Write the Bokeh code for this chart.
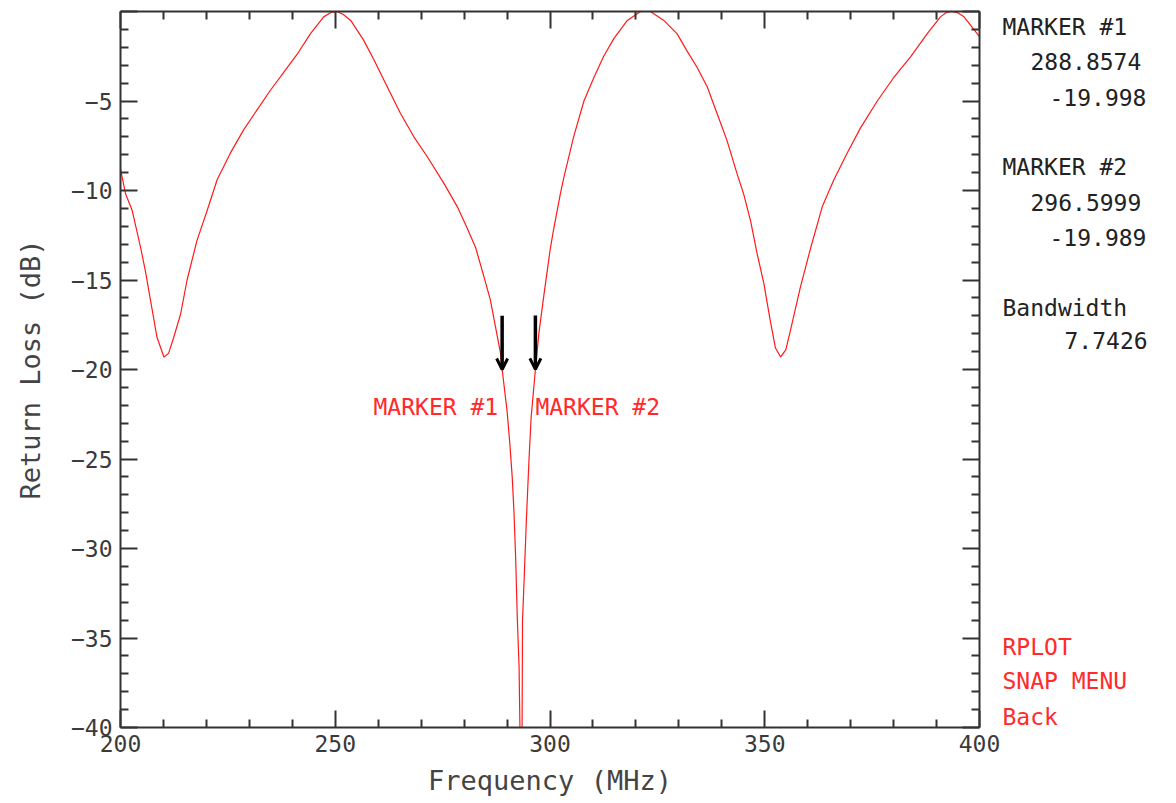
from bokeh.plotting import figure
from bokeh.layouts import row
from bokeh.models import (LinearAxis, FixedTicker, Label, Arrow, OpenHead,
                          Range1d, ColumnDataSource)
from bokeh.core.properties import value
from bokeh.embed import file_html
from bokeh.resources import INLINE

# ---------------- data ----------------
freq_mhz = [200, 201.2, 202.7, 204.7, 205.8, 207.4, 208.5, 210.1, 211.2, 212.4,
            214, 215.5, 217.8, 220.2, 222.5, 225.6, 228.7, 231.8, 234.9, 238,
            241.1, 244.2, 247.3, 249.0, 250.4, 251.8, 253.6, 256.6, 259, 262.1, 265.2, 268.3,
            271.4, 275.3, 278.4, 280.7, 282.7, 284.6, 286.1, 287.3, 288.5, 288.86,
            290, 290.6, 291.2, 291.6, 292.0, 292.4, 292.8, 293.0, 293.25, 293.5,
            293.6, 294.0, 294.5, 295.1, 295.6, 296.6, 297.4, 298.6, 300.1, 300.9,
            302.4, 303.2, 305.5, 307.9, 310.2, 312.5, 314.9, 318, 321.1, 323.4,
            326.5, 329.6, 331.9, 334.2, 336.6, 338.9, 341.2, 343.6, 345.1, 346.7,
            348.2, 349.8, 351.3, 352.5, 353.7, 354.9, 356, 358.3, 360.7, 363.4,
            366.1, 369.2, 372.3, 376.2, 380, 383.9, 387.8, 390.9, 392.3, 393.6, 395.0, 396.4,
            399.5, 400]
return_loss_db = [-8.8, -10.2, -11.1, -13.2, -14.5, -16.7, -18.2, -19.3, -19.1, -18.2,
                  -16.9, -15.0, -12.8, -11.1, -9.4, -7.9, -6.6, -5.5, -4.4, -3.4,
                  -2.4, -1.25, -0.3, -0.05, 0.0, -0.15, -0.5, -1.6, -2.7, -4.2, -5.7, -7.0,
                  -8.1, -9.6, -10.9, -12.1, -13.2, -14.8, -16.1, -17.6, -19.1, -20.0,
                  -22.3, -24.0, -26.0, -27.9, -30.5, -34.0, -36.6, -40.0, -46.0, -40.0,
                  -34.0, -31.6, -28.4, -25.1, -22.7, -20.0, -18.0, -15.8, -13.2, -12.1,
                  -10.2, -9.3, -7.0, -5.0, -3.7, -2.5, -1.5, -0.5, 0.0, 0.0,
                  -0.5, -1.25, -2.2, -3.1, -4.2, -5.7, -7.2, -9.1, -10.2, -11.7,
                  -13.5, -15.2, -17.3, -18.8, -19.3, -18.9, -17.8, -15.4, -13.2, -10.9,
                  -9.4, -7.9, -6.5, -5.0, -3.7, -2.55, -1.25, -0.3, -0.05, 0.0, -0.08, -0.3,
                  -1.25, -1.4]

marker_names = ["MARKER #1", "MARKER #2"]
marker_freq = [288.8574, 296.5999]
marker_db = [-19.998, -19.989]
marker_freq_text = ["288.8574", "296.5999"]
marker_db_text = ["-19.998", "-19.989"]
bandwidth_text = "7.7426"
menu_items = ["RPLOT", "SNAP MENU", "Back"]

x_major = [200, 250, 300, 350, 400]
x_minor = [210, 220, 230, 240, 260, 270, 280, 290, 310, 320, 330, 340,
           360, 370, 380, 390]
y_major = [0, -5, -10, -15, -20, -25, -30, -35, -40]
y_minor = [v for v in range(-39, 0) if v % 5 != 0]

# ---------------- layout ----------------
TOTAL_W, H = 1172, 802
FL, FR, FT, FB = 120, 979, 11, 727          # frame edges (page px)
MAIN_W = 1001
X0, X1, Y0, Y1 = 200, 400, -40, 0
BASE_SHIFT = 9                               # renderer baseline correction (px)

FONT = "DejaVu Sans Mono"
RED = "#ff2a2a"
AX = "#333333"


def fy(page_y):
    return Y1 - (page_y - FT) / (FB - FT) * (Y1 - Y0)


p = figure(width=MAIN_W, height=H, x_range=Range1d(X0, X1), y_range=Range1d(Y0, Y1),
           output_backend="svg", toolbar_location=None,
           x_axis_location=None, y_axis_location=None,
           min_border_left=FL, min_border_right=MAIN_W - FR,
           min_border_top=FT, min_border_bottom=H - FB)
p.outline_line_color = None
p.xgrid.visible = False
p.ygrid.visible = False
p.background_fill_color = "white"
p.border_fill_color = "white"


def style(ax, ticks, minor, labels=True):
    ax.ticker = FixedTicker(ticks=ticks, minor_ticks=minor)
    ax.axis_line_color = AX
    ax.axis_line_width = 2
    ax.major_tick_in = 17
    ax.major_tick_out = 0
    ax.minor_tick_in = 8
    ax.minor_tick_out = 0
    ax.major_tick_line_color = AX
    ax.major_tick_line_width = 2
    ax.minor_tick_line_color = AX
    ax.minor_tick_line_width = 2
    ax.major_label_text_font = FONT
    ax.major_label_text_color = "#3a3a3a"
    if labels:
        ax.major_label_text_font_size = "23px"
    else:
        ax.major_label_overrides = {t: "" for t in ticks}
        ax.major_label_text_font_size = "1px"
        ax.major_label_standoff = 0


xb = LinearAxis(axis_label="Frequency (MHz)")
style(xb, x_major, x_minor)
xb.major_label_standoff = 7
xb.axis_label_standoff = 10
xb.axis_label_text_font = FONT
xb.axis_label_text_font_size = "27px"
xb.axis_label_text_font_style = "normal"
xb.axis_label_text_color = "#444444"
p.add_layout(xb, "below")

yl = LinearAxis(axis_label="Return Loss (dB)")
style(yl, y_major, y_minor)
yl.major_label_overrides = {0: ""}
yl.major_label_standoff = 8
yl.axis_label_standoff = 22
yl.axis_label_text_font = FONT
yl.axis_label_text_font_size = "27px"
yl.axis_label_text_font_style = "normal"
yl.axis_label_text_color = "#444444"
p.add_layout(yl, "left")

xt = LinearAxis()
style(xt, x_major, x_minor, labels=False)
p.add_layout(xt, "above")

yr = LinearAxis()
style(yr, y_major, y_minor, labels=False)
p.add_layout(yr, "right")

# ---------------- curve ----------------
p.line(freq_mhz, return_loss_db, line_color="#ff1a1a", line_width=1.2)

# ---------------- markers ----------------
arrows = ColumnDataSource(dict(x0=marker_freq, y0=[d + 3.0 for d in marker_db],
                               x1=marker_freq, y1=marker_db))
p.add_layout(Arrow(source=arrows, x_start="x0", y_start="y0", x_end="x1", y_end="y1",
                   line_color="black", line_width=3.5,
                   end=OpenHead(size=11, line_color="black", line_width=3)))

lab_y = fy(415 - BASE_SHIFT)
p.add_layout(Label(x=marker_freq[0], y=lab_y, text=marker_names[0], x_offset=-4,
                   text_align="right", text_baseline="alphabetic",
                   text_font=FONT, text_font_size="23px", text_color=RED))
p.add_layout(Label(x=marker_freq[1], y=lab_y, text=marker_names[1], x_offset=0,
                   text_align="left", text_baseline="alphabetic",
                   text_font=FONT, text_font_size="23px", text_color=RED))

# ---------------- side panel (separate figure; frame aligned with main frame) ----------------
side = figure(width=TOTAL_W - MAIN_W, height=H,
              x_range=Range1d(MAIN_W, TOTAL_W), y_range=Range1d(FB, FT),
              output_backend="svg", toolbar_location=None,
              x_axis_location=None, y_axis_location=None,
              min_border_left=0, min_border_right=0, min_border_top=FT,
              min_border_bottom=H - FB)
side.outline_line_color = None
side.xgrid.visible = False
side.ygrid.visible = False

side_texts = [marker_names[0], marker_freq_text[0], marker_db_text[0],
              marker_names[1], marker_freq_text[1], marker_db_text[1],
              "Bandwidth", bandwidth_text] + menu_items
side_x = [1002, 1030, 1049, 1002, 1030, 1049, 1002, 1064, 1002, 1002, 1002]
side_base = [35, 70, 106, 175, 211, 246, 316, 349, 655, 689, 725]
side_y = [b - BASE_SHIFT for b in side_base]
side_c = ["#222222"] * 8 + [RED] * 3
side.text(x=side_x, y=side_y, text=side_texts, text_color=side_c,
          text_font=value(FONT), text_font_size="23px",
          text_align="left", text_baseline="alphabetic")

layout = row(p, side, spacing=0)
open("out.html", "w").write(file_html(layout, INLINE))
